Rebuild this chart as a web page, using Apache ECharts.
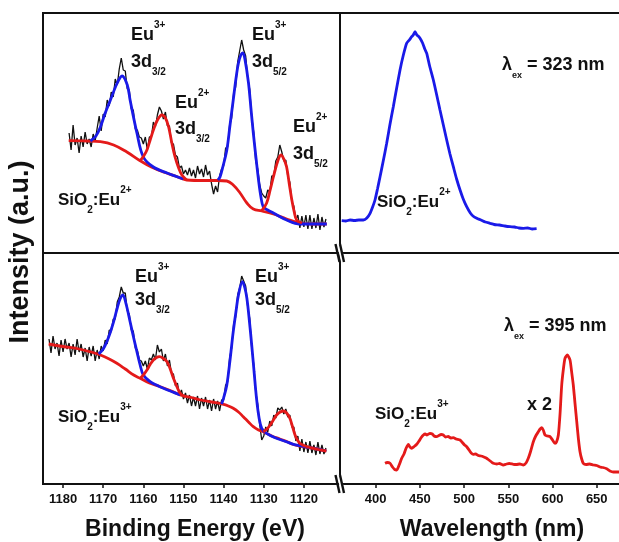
<!DOCTYPE html>
<html>
<head>
<meta charset="utf-8">
<script src="https://cdn.jsdelivr.net/npm/echarts@6/dist/echarts.min.js"></script>
<style>
html,body{margin:0;padding:0;background:#fff;}
#c{width:619px;height:542px;}
</style>
</head>
<body>
<div id="c"></div>
<script>
// ---------- DATA ----------
const beTicks = [1180, 1170, 1160, 1150, 1140, 1130, 1120];
const wlTicks = [400, 450, 500, 550, 600, 650];

// Top-left: SiO2:Eu2+ XPS (binding energy eV, intensity a.u.)
const xpsTopRaw = [[1178.5,120],[1178,103],[1177.5,128],[1177,108],[1176.5,115],[1176,100],[1175.5,117],[1175,106],[1174.5,121],[1174,109],[1173.5,114],[1173,106],[1172.5,119],[1172,112],[1171.5,125],[1171,137],[1170.5,122],[1170,139],[1169.5,136],[1169,153],[1168.5,147],[1168,161],[1167.5,156],[1167,174],[1166.5,168],[1166,184],[1165.5,195],[1165,183],[1164.5,182],[1164,164],[1163.5,163],[1163,144],[1162.5,143],[1162,124],[1161.5,123],[1161,116],[1160.5,115],[1160,109],[1159.5,116],[1159,103],[1158.5,116],[1158,116],[1157.5,131],[1157,126],[1156.5,138],[1156,146],[1155.5,142],[1155,134],[1154.5,141],[1154,127],[1153.5,127],[1153,110],[1152.5,109],[1152,98],[1151.5,96],[1151,85],[1150.5,87],[1150,79],[1149.5,83],[1149,78],[1148.5,85],[1148,77],[1147.5,83],[1147,75],[1146.5,87],[1146,79],[1145.5,84],[1145,76],[1144.5,88],[1144,78],[1143.5,82],[1143,69],[1142.5,59],[1142,67],[1141.5,61],[1141,77],[1140.5,84],[1140,87],[1139.5,105],[1139,106],[1138.5,128],[1138,135],[1137.5,160],[1137,166],[1136.5,191],[1136,202],[1135.5,213],[1135,203],[1134.5,197],[1134,175],[1133.5,164],[1133,136],[1132.5,121],[1132,92],[1131.5,84],[1131,68],[1130.5,60],[1130,57],[1129.5,55],[1129,63],[1128.5,61],[1128,77],[1127.5,77],[1127,92],[1126.5,96],[1126,108],[1125.5,101],[1125,92],[1124.5,93],[1124,76],[1123.5,71],[1123,51],[1122.5,47],[1122,33],[1121.5,38],[1121,25],[1120.5,37],[1120,26],[1119.5,38],[1119,24],[1118.5,38],[1118,24],[1117.5,35],[1117,25],[1116.5,39],[1116,23],[1115.5,36],[1115,26],[1114.5,34]];
const xpsTopBg = [[1178.6,112.3],[1174,112],[1170.7,111.3],[1167.4,108],[1164.1,101],[1160.8,92.3],[1158,86],[1155,81],[1152,77],[1149.2,73],[1145,72.5],[1141.4,72.5],[1139.2,72],[1137.6,68],[1135.9,60],[1134.2,50],[1132.6,44],[1130.5,42],[1127.6,39],[1124.3,34],[1121,30],[1118,29],[1114.3,29]];
const xpsTopEu3 = [
  [[1173.2,112],[1171.8,117],[1170.7,126],[1169.5,140],[1168.2,153],[1166.5,170],[1165.3,177],[1164,168],[1163.3,153],[1161.6,120],[1160,96],[1157.5,86],[1154.1,80],[1150,74]],
  [[1141.4,73],[1140.9,76],[1140.2,86],[1139.2,103],[1138.4,128],[1137.6,153],[1136.9,175],[1136.3,190],[1135.7,198],[1135.2,200],[1134.7,194],[1133.8,170],[1133.2,145],[1132.6,120],[1131.9,94],[1131.3,73],[1130.7,56],[1130.1,46],[1129,43],[1127.6,40],[1124.3,33],[1121,29],[1114.3,29]]
];
const xpsTopEu2 = [
  [[1160.8,92.3],[1159.9,97],[1159.1,103],[1158.3,113],[1157.5,123],[1156.6,132],[1155.4,138],[1154.5,135],[1153.7,126],[1152.9,110],[1152.1,96],[1151.2,85],[1150.4,78],[1149.2,73]],
  [[1130.5,42.3],[1129.3,49.7],[1128.4,63],[1127.6,76],[1126.5,92],[1125.7,98],[1125,94],[1124.3,86],[1123.6,68],[1123,53],[1122.4,41],[1121.8,33],[1120.5,30]]
];

// Bottom-left: SiO2:Eu3+ XPS
const xpsBotRaw = [[1183.5,145],[1183,131],[1182.5,148],[1182,135],[1181.5,141],[1181,128],[1180.5,144],[1180,132],[1179.5,145],[1179,135],[1178.5,141],[1178,127],[1177.5,140],[1177,129],[1176.5,145],[1176,132],[1175.5,140],[1175,127],[1174.5,136],[1174,123],[1173.5,137],[1173,128],[1172.5,138],[1172,123],[1171.5,134],[1171,125],[1170.5,138],[1170,133],[1169.5,144],[1169,140],[1168.5,154],[1168,152],[1167.5,165],[1167,165],[1166.5,182],[1166,187],[1165.5,197],[1165,191],[1164.5,191],[1164,173],[1163.5,170],[1163,154],[1162.5,153],[1162,136],[1161.5,134],[1161,124],[1160.5,123],[1160,118],[1159.5,123],[1159,115],[1158.5,126],[1158,124],[1157.5,130],[1157,124],[1156.5,139],[1156,132],[1155.5,135],[1155,123],[1154.5,130],[1154,118],[1153.5,124],[1153,111],[1152.5,110],[1152,98],[1151.5,101],[1151,89],[1150.5,94],[1150,85],[1149.5,91],[1149,81],[1148.5,89],[1148,78],[1147.5,87],[1147,78],[1146.5,88],[1146,75],[1145.5,86],[1145,78],[1144.5,87],[1144,75],[1143.5,84],[1143,73],[1142.5,85],[1142,75],[1141.5,83],[1141,73],[1140.5,84],[1140,84],[1139.5,99],[1139,102],[1138.5,126],[1138,136],[1137.5,160],[1137,167],[1136.5,189],[1136,196],[1135.5,208],[1135,203],[1134.5,198],[1134,177],[1133.5,166],[1133,136],[1132.5,120],[1132,92],[1131.5,80],[1131,59],[1130.5,44],[1130,48],[1129.5,57],[1129,52],[1128.5,63],[1128,58],[1127.5,69],[1127,66],[1126.5,76],[1126,74],[1125.5,77],[1125,70],[1124.5,75],[1124,67],[1123.5,69],[1123,57],[1122.5,57],[1122,43],[1121.5,48],[1121,33],[1120.5,45],[1120,32],[1119.5,42],[1119,31],[1118.5,43],[1118,31],[1117.5,39],[1117,29],[1116.5,42],[1116,30],[1115.5,39],[1115,30],[1114.5,36]];
const xpsBotBg = [[1183.6,140],[1180,137.5],[1176,135],[1173,132],[1170.7,129],[1168.5,125],[1166.6,120.7],[1164.5,115],[1162.4,109],[1160.8,105.7],[1158.5,101],[1155.8,97.3],[1153,93],[1150.8,89],[1148,86.5],[1145.8,84],[1143,82],[1140,79.7],[1138.8,78],[1137.6,75.7],[1136.3,72],[1135.1,67.3],[1133.8,62],[1132.6,57.3],[1131.3,54],[1130.1,52.3],[1128,48],[1126,45],[1124,42],[1122.6,39.5],[1121,38],[1118,36],[1114.4,33]];
const xpsBotEu3 = [
  [[1171.1,130],[1170,135],[1169.1,142.3],[1168.2,152],[1167.4,162.3],[1166.5,176],[1165.8,185],[1165.1,189],[1164.3,180],[1163.3,162.3],[1162.4,146],[1161.6,132.3],[1160.8,119],[1160,109],[1158.3,102.3],[1156.5,98.5],[1155,95.7],[1153,92.5],[1150.8,89]],
  [[1140.5,80],[1140,86],[1139.2,99],[1138.4,124],[1137.6,152.3],[1136.9,173],[1136.3,189],[1135.3,202.3],[1134.7,196],[1134.2,185.7],[1133.6,164],[1133,139],[1132.4,112],[1131.8,85.7],[1131.2,67],[1130.5,55.7],[1129.3,50.7],[1127,46],[1124.5,42.5],[1122.6,39.7],[1121,38.3],[1118,36],[1114.4,33]]
];
const xpsBotEu2 = [
  [[1160.8,105.7],[1160,109],[1159.1,114],[1158.3,119.5],[1157.5,124],[1156.7,126.5],[1156,127.3],[1155,125.5],[1154.1,122.3],[1153.3,115],[1152.5,105.7],[1151.6,97],[1150.8,90.7],[1149.6,87.3]],
  [[1130.1,52.3],[1129.2,55],[1128.4,59],[1127.6,64],[1126.8,69],[1125.9,72],[1125.1,73],[1124.3,71],[1123.5,65.7],[1122.8,57],[1122.2,49],[1121.6,44],[1121,40.7],[1119,37],[1117,35],[1114.4,33]]
];

// Right: PL emission spectra (wavelength nm, intensity a.u.)
const plTop = [[361.5,32.3],[366,32],[371,33],[376,32.5],[381,33],[386,33],[390,35],[393.6,39.7],[396.5,46],[399.2,53],[402,64],[404.9,76.3],[408.5,92],[412.4,109.7],[416,128],[419.9,146.3],[423.5,164],[427.5,183],[431,197],[435,209.7],[438,213],[440.7,216.3],[442.5,218],[444.5,221.3],[446.5,218],[448,217],[450.1,214.7],[453,210],[455.5,204],[457.7,199.7],[461,187],[465.2,173],[469,158],[472.7,143],[476.5,128],[480.3,113],[484,99],[487.8,86.3],[491.5,74],[495.4,63],[499,54],[502.9,46.3],[507,40],[510,37],[514.3,34.7],[519,33],[524,31],[529.3,29.7],[534,28.5],[540,28],[546,27],[552,26.3],[557,26],[562,25],[567,24.7],[572,25],[577,24],[582,24.3]];
const plBot = [[410.5,20.7],[413,21.5],[416.2,20.7],[419,17],[421.5,14.5],[423.8,14],[426.5,19],[429.4,25.7],[432,30],[434.5,36],[436.9,39.7],[438.8,37],[440.7,35.7],[443.5,37.5],[446.4,39.7],[449,43],[451.5,46.5],[453.9,49],[456,50],[458,49],[461.4,50.7],[464,50],[466,48],[469,47.3],[471.5,48.5],[474,49.5],[476.5,49],[479,47],[482,47.5],[485,46],[487.8,46.3],[491,45],[495.4,44],[498,41.5],[500.5,39],[502.9,37.3],[506,33.5],[508,31],[510.4,29.7],[513,30],[516,28.5],[519,28],[521.7,27.3],[525,26],[528,24],[531,22],[533,20.7],[537,20],[540,20.5],[544.3,19],[548,20],[551,20.5],[555.7,19.7],[559,19.5],[563,20],[567,19],[570,21],[572.6,25.7],[575,32],[578.3,42.3],[581,48],[584,52.3],[586,55],[587.8,56.3],[589.5,54],[591.5,49],[594,48],[597.2,47.3],[600,44],[602.8,40.7],[604.5,42],[606.6,49],[608.5,70],[610.4,99],[612.3,115],[614.1,125.7],[616.8,129],[619.8,124],[621.5,113],[623.5,99],[625.5,80],[627.4,62.3],[629.3,45],[631.1,32.3],[633,25],[634.8,20.7],[638,19.5],[642,20],[646.1,19],[650,18.5],[653.7,17],[657,16.5],[661.3,15.3],[665,13],[668.8,12],[672,12],[675.2,12]];

// ---------- CHART ----------
const FF = '"Liberation Sans", Arial, sans-serif';
const BLACK = '#111111', BLUE = '#1a1ae8', RED = '#e41a1a';
const chart = echarts.init(document.getElementById('c'), null, {renderer: 'canvas'});

const gridStyle = {show: true, borderColor: BLACK, borderWidth: 2, backgroundColor: 'transparent'};
const grids = [
  Object.assign({left: 43, top: 13, width: 297, height: 240}, gridStyle),
  Object.assign({left: 43, top: 253, width: 297, height: 231}, gridStyle),
  {left: 340, top: 13, width: 279, height: 240, show: false},
  {left: 340, top: 253, width: 279, height: 231, show: false}
];
const WL_MIN = 359.6, WL_MAX = 675.2;
const AXLINE = {show: true, lineStyle: {color: BLACK, width: 2}};

function xAx(gridIndex, min, max, inverse, ticks, axisLine, position) {
  const base = {type: 'value', gridIndex, min, max, inverse, position: position || 'bottom',
    splitLine: {show: false}, axisLine: axisLine || {show: false}};
  if (!ticks) {
    return Object.assign(base, {axisLabel: {show: false}, axisTick: {show: false}});
  }
  return Object.assign(base, {
    axisTick: {show: true, inside: false, length: 4, customValues: ticks, lineStyle: {color: BLACK, width: 1.5}},
    axisLabel: {show: true, customValues: ticks, margin: 9, color: BLACK, fontSize: 13, fontWeight: 'bold', fontFamily: FF,
      formatter: v => String(v)}
  });
}
function yAx(gridIndex, max) {
  return {type: 'value', gridIndex, min: 0, max, show: false};
}

function line(data, xi, yi, color, width, z, smooth) {
  return {type: 'line', xAxisIndex: xi, yAxisIndex: yi, data, showSymbol: false, symbol: 'none',
    smooth: smooth || false, lineStyle: {color, width}, z, silent: true, animation: false};
}

const series = [];
// top-left
series.push(line(xpsTopRaw, 0, 0, BLACK, 1.3, 2));
series.push(line(xpsTopBg, 0, 0, RED, 2.8, 3, 0.4));
xpsTopEu3.forEach(s => series.push(line(s, 0, 0, BLUE, 2.8, 4, 0.35)));
xpsTopEu2.forEach(s => series.push(line(s, 0, 0, RED, 2.8, 5, 0.35)));
// bottom-left
series.push(line(xpsBotRaw, 1, 1, BLACK, 1.3, 2));
series.push(line(xpsBotBg, 1, 1, RED, 2.8, 3, 0.4));
xpsBotEu3.forEach(s => series.push(line(s, 1, 1, BLUE, 2.8, 4, 0.35)));
xpsBotEu2.forEach(s => series.push(line(s, 1, 1, RED, 2.8, 5, 0.35)));
// right
series.push(line(plTop, 2, 2, BLUE, 2.8, 3, 0.2));
series.push(line(plBot, 3, 3, RED, 2.8, 3, 0.2));

const RICH = {
  m: {fontSize: 18, fontWeight: 'bold', fontFamily: FF, lineHeight: 30, verticalAlign: 'middle', fill: BLACK},
  s: {fontSize: 17, fontWeight: 'bold', fontFamily: FF, lineHeight: 30, verticalAlign: 'middle', fill: BLACK},
  sup: {fontSize: 10, fontWeight: 'bold', fontFamily: FF, lineHeight: 14, verticalAlign: 'top', fill: BLACK},
  sup2: {fontSize: 10, fontWeight: 'bold', fontFamily: FF, lineHeight: 16, verticalAlign: 'top', fill: BLACK},
  sub: {fontSize: 10, fontWeight: 'bold', fontFamily: FF, lineHeight: 10, verticalAlign: 'bottom', fill: BLACK},
  sub8: {fontSize: 10, fontWeight: 'bold', fontFamily: FF, lineHeight: 8, verticalAlign: 'bottom', fill: BLACK},
  ex: {fontSize: 9, fontWeight: 'bold', fontFamily: FF, lineHeight: 6, verticalAlign: 'bottom', fill: BLACK}
};
function rt(x, y, text) {
  return {type: 'text', x, y, z: 100, silent: true,
    style: {text, rich: RICH, fill: BLACK, font: 'bold 18px ' + FF, align: 'left', verticalAlign: 'middle', textAlign: 'left', textVerticalAlign: 'middle'}};
}
function plain(x, y, text, size, rot) {
  return {type: 'text', x, y, rotation: rot || 0, z: 100, silent: true,
    style: {text, fill: BLACK, font: 'bold ' + size + 'px ' + FF, align: 'center', verticalAlign: 'middle', textAlign: 'center', textVerticalAlign: 'middle'}};
}
function brk(cx, cy) {
  return [
    {type: 'polygon', z: 110, silent: true, shape: {points: [[cx - 4, cy - 9], [cx, cy - 9], [cx + 4, cy + 9], [cx, cy + 9]]}, style: {fill: '#fff'}},
    {type: 'line', z: 111, silent: true, shape: {x1: cx - 5.5, y1: cy - 9, x2: cx - 1.5, y2: cy + 9}, style: {stroke: BLACK, lineWidth: 2.4}},
    {type: 'line', z: 111, silent: true, shape: {x1: cx - 1, y1: cy - 9, x2: cx + 3, y2: cy + 9}, style: {stroke: BLACK, lineWidth: 2.4}}
  ];
}

const graphic = [
  // top-left annotations
  rt(131, 35, '{m|Eu}{sup|3+}'), rt(131, 62.5, '{m|3d}{sub|3/2}'),
  rt(252, 35, '{m|Eu}{sup|3+}'), rt(252, 62.5, '{m|3d}{sub|5/2}'),
  rt(175, 103, '{m|Eu}{sup|2+}'), rt(175, 129, '{m|3d}{sub|3/2}'),
  rt(293, 127, '{m|Eu}{sup|2+}'), rt(293, 154, '{m|3d}{sub|5/2}'),
  rt(58, 200, '{s|SiO}{sub8|2}{s|:Eu}{sup2|2+}'),
  // top-right
  rt(502, 65, '{m|λ}{ex|ex}{m| = 323 nm}'),
  rt(377, 202, '{s|SiO}{sub8|2}{s|:Eu}{sup2|2+}'),
  // bottom-left
  rt(135, 277.5, '{m|Eu}{sup|3+}'), rt(135, 300, '{m|3d}{sub|3/2}'),
  rt(255, 277.5, '{m|Eu}{sup|3+}'), rt(255, 300, '{m|3d}{sub|5/2}'),
  rt(58, 417, '{s|SiO}{sub8|2}{s|:Eu}{sup2|3+}'),
  // bottom-right
  rt(504, 326, '{m|λ}{ex|ex}{m| = 395 nm}'),
  rt(527, 405, '{m|x 2}'),
  rt(375, 414, '{s|SiO}{sub8|2}{s|:Eu}{sup2|3+}'),
  // axis titles
  plain(195, 530, 'Binding Energy (eV)', 23),
  plain(492, 530, 'Wavelength (nm)', 23),
  plain(21, 252, 'Intensity (a.u.)', 27, Math.PI / 2)
].concat(brk(341, 253), brk(341, 484));

chart.setOption({
  animation: false,
  backgroundColor: '#ffffff',
  grid: grids,
  xAxis: [
    xAx(0, 1111, 1185, true, null),
    xAx(1, 1111, 1185, true, beTicks),
    xAx(2, WL_MIN, WL_MAX, false, null, AXLINE, 'bottom'),
    xAx(3, WL_MIN, WL_MAX, false, wlTicks, AXLINE, 'bottom'),
    xAx(2, WL_MIN, WL_MAX, false, null, AXLINE, 'top')
  ],
  yAxis: [yAx(0, 240), yAx(1, 231), yAx(2, 240), yAx(3, 231)],
  series,
  graphic
});
</script>
</body>
</html>
